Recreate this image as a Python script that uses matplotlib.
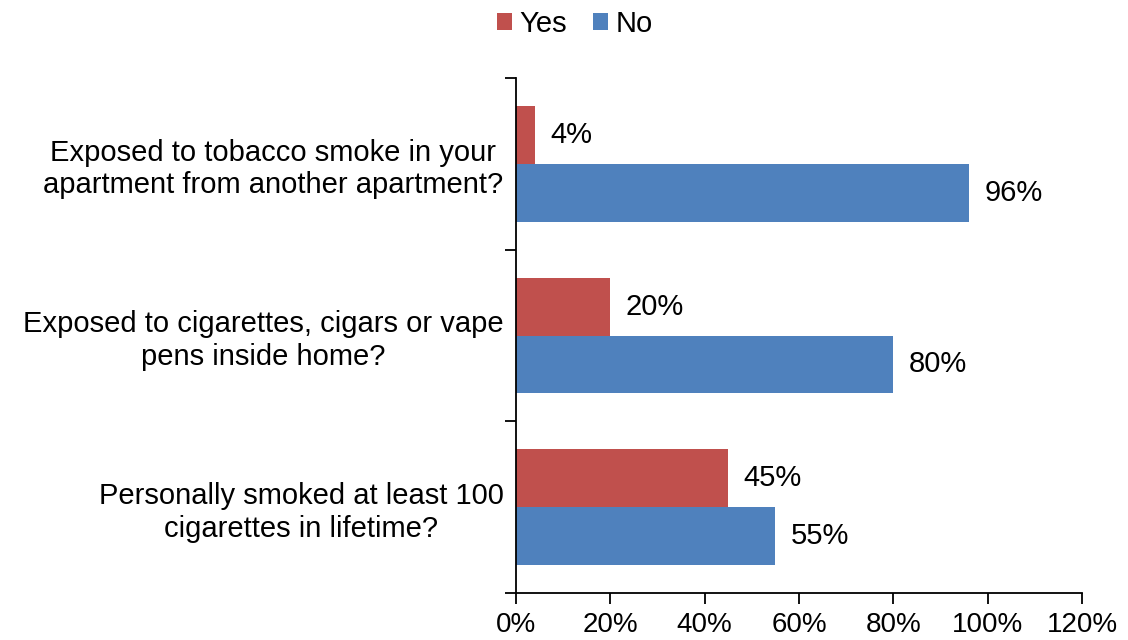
import matplotlib
matplotlib.use("Agg")
import matplotlib.pyplot as plt
import numpy as np

plt.rcParams['font.family'] = ['Liberation Sans', 'DejaVu Sans']

categories = [
    "Personally smoked at least 100\ncigarettes in lifetime?",
    "Exposed to cigarettes, cigars or vape\npens inside home?",
    "Exposed to tobacco smoke in your\napartment from another apartment?",
]
yes_vals = [45, 20, 4]
no_vals = [55, 80, 96]
xticks = [0, 20, 40, 60, 80, 100, 120]

red = "#C0504D"
blue = "#4F81BD"
fs = 21

fig = plt.figure(figsize=(11.28, 6.4), dpi=100)
ax = fig.add_axes([516/1128, 1-593/640, (1082-516)/1128, (593-78)/640])

y = np.arange(len(categories))
h = 0.337
ax.barh(y + h/2, yes_vals, height=h, color=red, label="Yes")
ax.barh(y - h/2, no_vals, height=h, color=blue, label="No")

for yi, v in zip(y + h/2, yes_vals):
    ax.text(v + 3.3, yi, f"{v}%", va="center", ha="left", fontsize=fs)
for yi, v in zip(y - h/2, no_vals):
    ax.text(v + 3.3, yi, f"{v}%", va="center", ha="left", fontsize=fs)

ax.set_xlim(0, 120)
ax.set_ylim(-0.5, 2.5)
ax.set_xticks(xticks)
ax.set_xticklabels([f"{t}%" for t in xticks], fontsize=20)
ax.set_yticks([-0.5, 0.5, 1.5, 2.5])
ax.set_yticklabels([])
ax.set_yticks(y, minor=True)
ax.set_yticklabels(categories, minor=True, fontsize=fs, ha="right", multialignment="center")
ax.tick_params(axis='y', which='minor', length=0, pad=9)
ax.tick_params(axis='y', which='major', length=8, width=1.3, direction='out')
ax.tick_params(axis='x', length=8, width=1.3, direction='out', pad=6)
for s in ["top", "right"]:
    ax.spines[s].set_visible(False)
for s in ["left", "bottom"]:
    ax.spines[s].set_linewidth(1.3)

fig.legend(loc="upper center", bbox_to_anchor=(575/1128, 1.026), ncol=2, frameon=False,
           fontsize=fs, handlelength=0.52, handleheight=0.52, handletextpad=0.25,
           columnspacing=0.9)

fig.savefig("out.png", dpi=100)
